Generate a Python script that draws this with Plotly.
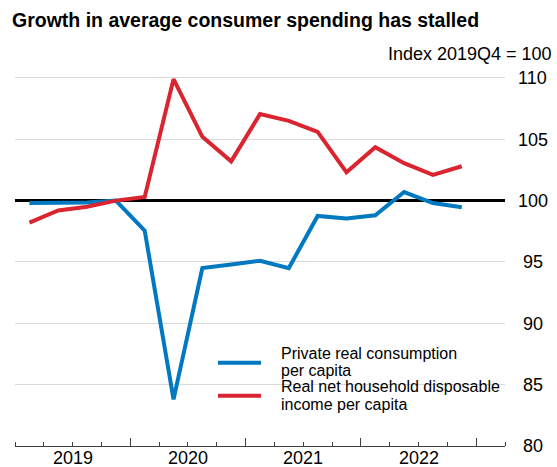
import plotly.graph_objects as go

# ---- data ----
quarters = ["2019Q1", "2019Q2", "2019Q3", "2019Q4",
            "2020Q1", "2020Q2", "2020Q3", "2020Q4",
            "2021Q1", "2021Q2", "2021Q3", "2021Q4",
            "2022Q1", "2022Q2", "2022Q3", "2022Q4"]
consumption = [99.8, 99.8, 99.85, 100.0, 97.55, 83.8, 94.5, 94.8,
               95.1, 94.5, 98.75, 98.55, 98.8, 100.7, 99.8, 99.45]
income = [98.2, 99.2, 99.5, 100.0, 100.3, 109.9, 105.2, 103.2,
          107.05, 106.5, 105.6, 102.3, 104.35, 103.05, 102.1, 102.8]
years = ["2019", "2020", "2021", "2022"]
y_ticks = [80, 85, 90, 95, 100, 105, 110]
base_value = 100
series_names = ["Private real consumption<br>per capita",
                "Real net household disposable<br>income per capita"]
title_text = "Growth in average consumer spending has stalled"
subtitle_text = "Index 2019Q4 = 100"

BLUE = "#0079C1"
RED = "#DA2530"
FONT = "Liberation Sans, Arial, sans-serif"

W, H = 557, 467
ML, MR, MT, MB = 15, 52, 73, 21
PW, PH = W - ML - MR, H - MT - MB

n = len(quarters)
xs = list(range(n))
x_range = [-0.5, n + 0.5]
year_centers = [4 * k + 1.5 for k in range(len(years))]
year_bounds = [4 * k + 3.5 for k in range(len(years))]
minor_vals = [i - 0.5 for i in range(n + 2) if (i - 0.5) not in year_bounds]
grid_vals = [v for v in y_ticks if v not in (y_ticks[0], base_value)]


def px_x(px):
    return (px - ML) / PW


def px_y(py):
    return (H - MB - py) / PH


fig = go.Figure()
fig.add_trace(go.Scatter(x=xs, y=consumption, mode="lines", name=series_names[0],
                         text=quarters, line=dict(color=BLUE, width=4),
                         showlegend=False))
fig.add_trace(go.Scatter(x=xs, y=income, mode="lines", name=series_names[1],
                         text=quarters, line=dict(color=RED, width=4),
                         showlegend=False))
# invisible trace to activate xaxis2 (year-boundary ticks)
fig.add_trace(go.Scatter(x=[x_range[0]], y=[80], xaxis="x2", mode="lines",
                         showlegend=False, hoverinfo="skip",
                         line=dict(width=0)))

fig.add_shape(type="line", xref="paper", x0=0, x1=1, yref="y",
              y0=base_value, y1=base_value,
              line=dict(color="black", width=3), layer="between")

# legend drawn manually
legend_rows = [(362.7, BLUE, ["Private real consumption", "per capita"], [353, 370]),
               (395.7, RED, ["Real net household disposable", "income per capita"], [386, 404])]
for ly, col, lines, tys in legend_rows:
    fig.add_shape(type="line", xref="paper", yref="paper",
                  x0=px_x(218), x1=px_x(261), y0=px_y(ly), y1=px_y(ly),
                  line=dict(color=col, width=4))
    for t, ty in zip(lines, tys):
        fig.add_annotation(text=t, xref="paper", yref="paper", x=px_x(279), y=px_y(ty),
                           xanchor="left", yanchor="middle", showarrow=False,
                           font=dict(family=FONT, size=16, color="black"))

# year labels, placed on the x scale
for yc, yr in zip(year_centers, years):
    fig.add_annotation(text=yr, xref="x", yref="paper", x=yc, y=px_y(458.5),
                       xanchor="center", yanchor="middle", showarrow=False,
                       font=dict(family=FONT, size=18, color="black"))

fig.add_annotation(text=subtitle_text, xref="paper", yref="paper",
                   x=px_x(554), y=px_y(54), xanchor="right", yanchor="middle",
                   showarrow=False, font=dict(family=FONT, size=18, color="black"))

ytext = [("\u00a0" + str(v)) if v < 100 else str(v) for v in y_ticks]

fig.update_layout(
    width=W, height=H,
    margin=dict(l=ML, r=MR, t=MT, b=MB, autoexpand=False),
    paper_bgcolor="white", plot_bgcolor="white",
    title=dict(text="<b>" + title_text + "</b>", x=12 / W, xanchor="left",
               xref="container", y=1 - 20 / H, yref="container", yanchor="middle",
               font=dict(family=FONT, size=19.5, color="black")),
    font=dict(family=FONT, color="black"),
    xaxis=dict(range=x_range, tickmode="array", tickvals=year_centers,
               showticklabels=False,
               ticks="", showgrid=False, zeroline=False,
               showline=True, linecolor="#404040", linewidth=1,
               minor=dict(tickmode="array", tickvals=minor_vals, ticks="inside",
                          ticklen=4, tickcolor="#404040", tickwidth=1, showgrid=False),
               automargin=False),
    xaxis2=dict(range=x_range, overlaying="x", anchor="y", side="bottom",
                tickmode="array", tickvals=year_bounds, ticks="inside", ticklen=8,
                tickcolor="#404040", tickwidth=1, showticklabels=False,
                showgrid=False, zeroline=False, showline=False),
    yaxis=dict(range=[80, 110.4], side="right", tickmode="array", tickvals=y_ticks,
               ticktext=ytext, ticks="", showgrid=False, zeroline=False, showline=False,
               minor=dict(tickmode="array", tickvals=grid_vals, ticks="",
                          showgrid=True, gridcolor="#d9d9d9", gridwidth=1),
               tickfont=dict(size=18, color="black"), ticklabelstandoff=12,
               automargin=False),
    showlegend=False,
)

fig.write_html("out.html", config={"displayModeBar": False},
               post_script="document.body.style.margin='0';"
                           "document.body.style.overflow='hidden';")
